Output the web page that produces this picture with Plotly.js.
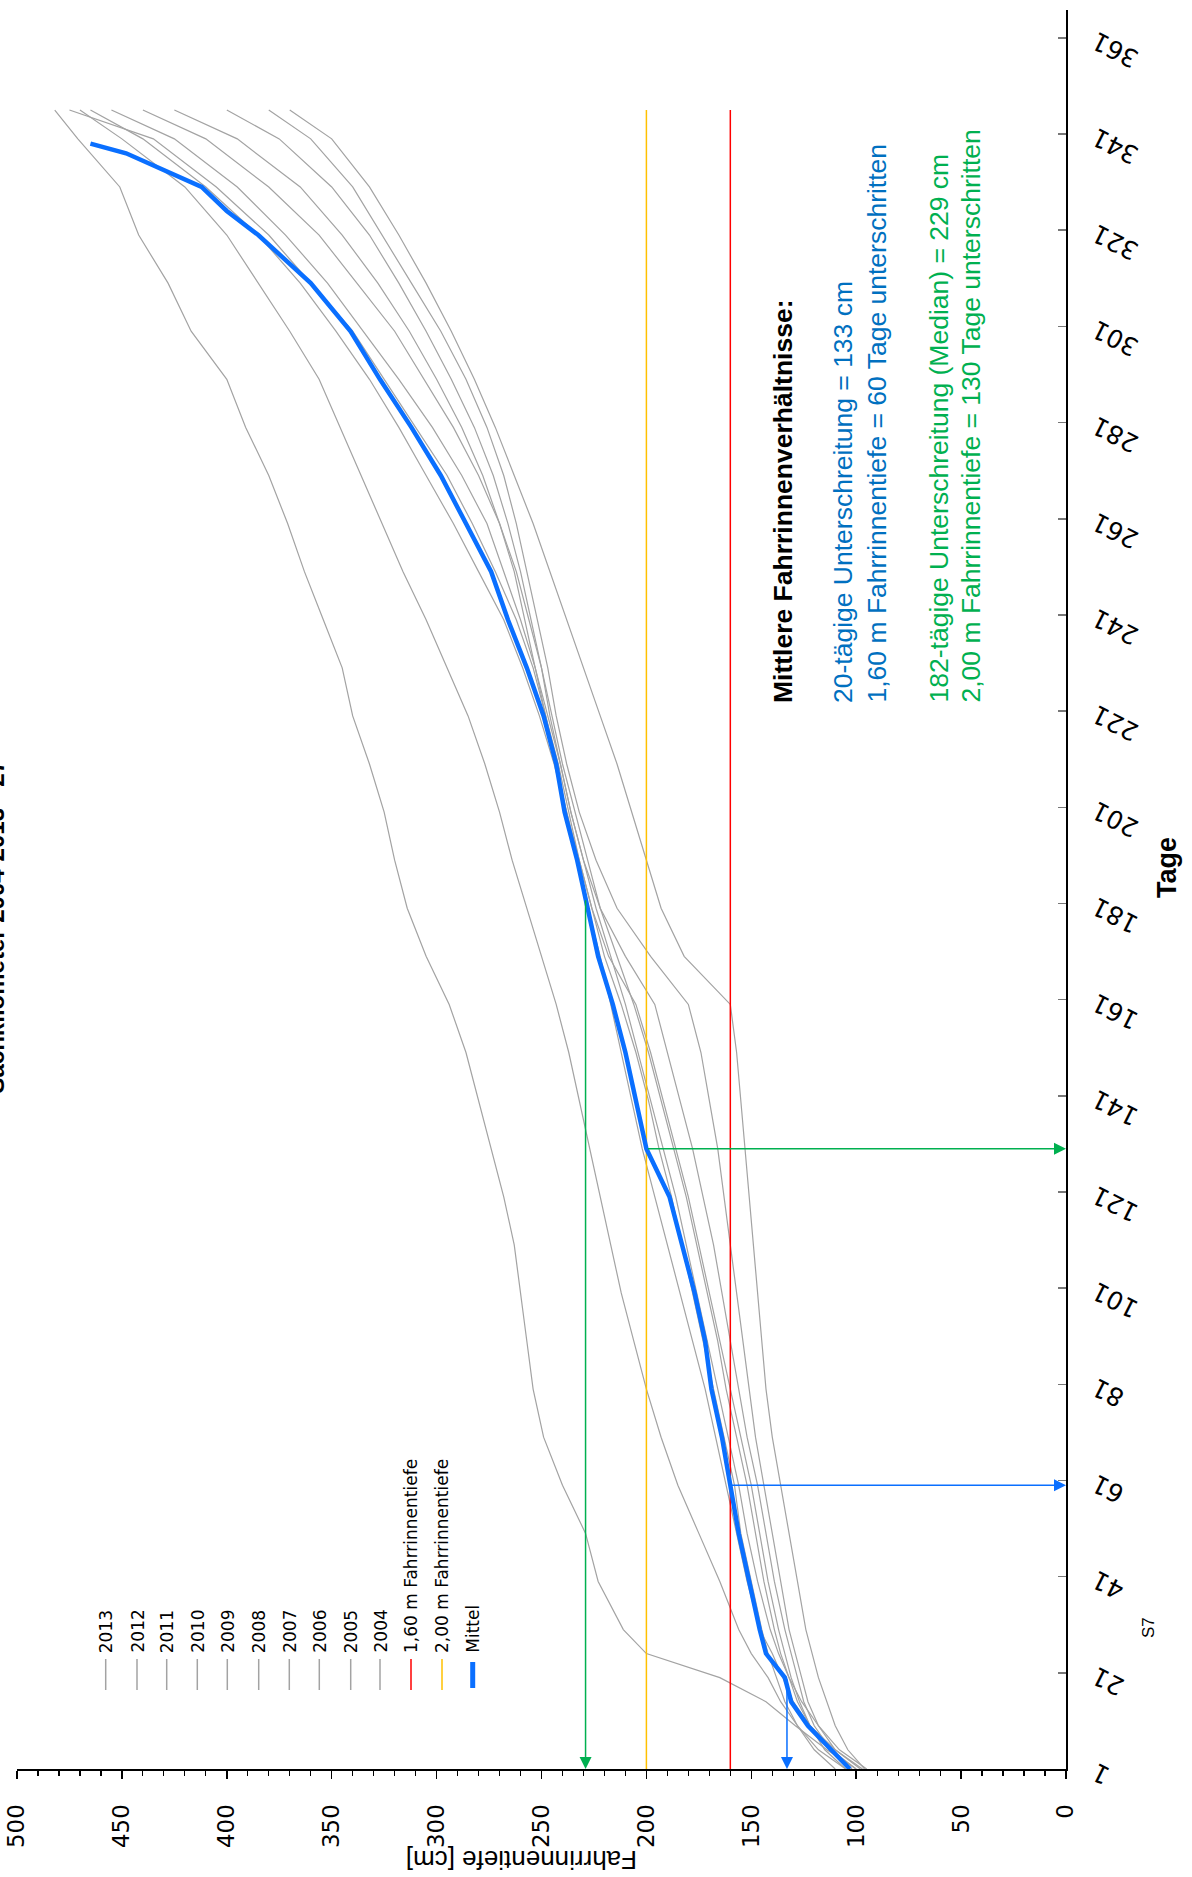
<!DOCTYPE html>
<html>
<head>
<meta charset="utf-8">
<script src="https://cdn.plot.ly/plotly-3.0.1.min.js"></script>
<style>html,body{margin:0;padding:0;background:#fff;}#chart{width:1192px;height:1877px;}</style>
</head>
<body>
<div id="chart"></div>
<script>
// ---- data (days of year, sorted depth duration curves in cm) ----
const days = [1,5,10,15,20,25,30,40,50,60,70,80,90,100,110,120,130,140,150,160,170,180,190,200,210,220,230,240,250,260,270,280,290,300,310,320,330,340,346];
const years = ['2013','2012','2011','2010','2009','2008','2007','2006','2005','2004'];
const d2013 = [100,114,129,143,165,200,211,223,229,240,249,254,257,260,263,268,274,280,286,294,305,314,320,325,332,340,345,354,363,371,380,391,400,417,428,442,451,471,482];
const d2012 = [105,118,128,136,142,150,156,165,175,185,193,200,206,212,217,222,227,232,237,243,250,257,264,270,277,285,295,305,316,326,336,346,356,370,385,400,420,450,470];
const d2011 = [98,110,122,130,135,140,146,152,157,162,167,172,178,184,190,196,202,207,212,217,222,228,233,238,244,251,259,268,280,292,305,318,332,348,365,385,410,440,465];
const d2010 = [110,120,128,134,138,142,145,150,155,158,163,168,173,178,183,188,194,199,205,212,220,226,232,237,242,248,254,262,272,283,295,310,325,340,360,380,405,435,475];
const d2009 = [95,108,118,126,132,137,141,147,152,156,161,166,171,176,181,186,192,198,204,210,217,224,230,236,241,247,253,260,268,276,288,302,318,335,352,372,395,425,455];
const d2008 = [100,112,122,128,132,136,139,144,148,152,157,162,166,171,176,181,187,193,199,206,214,222,228,234,240,245,250,256,262,270,280,292,306,320,338,356,380,410,440];
const d2007 = [105,115,122,127,131,134,137,142,146,150,155,160,165,170,175,180,186,192,198,205,218,226,232,238,243,248,253,258,263,270,278,288,300,313,328,345,365,395,425];
const d2006 = [102,112,120,125,128,131,134,139,143,147,152,156,160,164,168,173,178,184,190,196,210,222,230,236,241,246,250,255,260,266,273,282,293,305,318,332,350,375,400];
const d2005 = [97,110,118,123,126,129,132,136,140,144,148,151,154,157,160,163,166,170,174,180,198,214,224,232,238,243,247,252,257,262,268,276,286,298,312,326,340,360,380];
const d2004 = [96,104,110,114,118,121,124,128,132,136,140,143,145,147,149,151,153,155,157,160,182,193,200,207,214,222,230,238,246,254,263,272,282,293,305,318,332,350,370];
const meanDays = [1,5,10,15,20,25,30,40,50,60,70,80,90,100,110,120,130,140,150,160,170,180,190,200,210,220,230,240,250,260,270,280,290,300,310,320,325,330,334,337,339];
const meanDepth = [103,112,123,131,134,143,146,151,156,160,164,169,172,177,183,189,200,205,210,216,223,228,233,239,243,249,257,266,274,286,298,312,327,341,360,385,400,412,432,448,465];
const limitDays = [1,346];
const limit160 = [160,160];
const limit200 = [200,200];
const tickDays = [1,21,41,61,81,101,121,141,161,181,201,221,241,261,281,301,321,341,361];
const depthTicks = [0,50,100,150,200,250,300,350,400,450,500];
const legendLabels = ['2013','2012','2011','2010','2009','2008','2007','2006','2005','2004','1,60 m Fahrrinnentiefe','2,00 m Fahrrinnentiefe','Mittel'];
const stat20 = {days:20, depth:133};
const stat160 = {days:60, depth:160};
const stat182 = {days:182, depth:229};
const stat200 = {days:130, depth:200};
const infoTitle = 'Mittlere Fahrrinnenverhältnisse:';
const infoBlue = ['20-tägige Unterschreitung = 133 cm','1,60 m Fahrrinnentiefe = 60 Tage unterschritten'];
const infoGreen = ['182-tägige Unterschreitung (Median) = 229 cm','2,00 m Fahrrinnentiefe = 130 Tage unterschritten'];

// ---- layout geometry (pixels) ----
const W = 1192, H = 1877;
const L = 17, R = 1066, T = 10, B = 1769;
const px = v => (v - L) / (R - L);
const py = v => (B - v) / (B - T);

const grey = '#a3a3a3';
const blue = '#0a6fff';
const blueText = '#0070c0';
const green = '#00b050';
const red = '#ff0000';
const yellow = '#ffc000';

const yearData = [d2013,d2012,d2011,d2010,d2009,d2008,d2007,d2006,d2005,d2004];
const traces = [];
yearData.forEach((arr, i) => {
  traces.push({x: arr, y: days, name: years[i], type: 'scatter', mode: 'lines',
    line: {color: grey, width: 1.2}, hoverinfo: 'skip'});
});
traces.push({x: limit160, y: limitDays, name: legendLabels[10], mode: 'lines', line: {color: red, width: 1.5}});
traces.push({x: limit200, y: limitDays, name: legendLabels[11], mode: 'lines', line: {color: yellow, width: 1.5}});
traces.push({x: meanDepth, y: meanDays, name: 'Mittel', mode: 'lines', line: {color: blue, width: 4.5}});

const annotations = [];
const shapes = [];
const FS = 'Liberation Sans, Arial, sans-serif';
const DJ = 'DejaVu Sans, Verdana, sans-serif';

// arrows
function arrow(color, hx, hy, tx, ty) {
  annotations.push({x: hx, y: hy, ax: tx, ay: ty, xref: 'x', yref: 'y', axref: 'x', ayref: 'y',
    text: '', showarrow: true, arrowhead: 2, arrowsize: 1.6, arrowwidth: 1.5, arrowcolor: color, standoff: 0});
}
arrow(blue, stat20.depth, 1, stat20.depth, stat20.days);
arrow(blue, 0, stat160.days, stat160.depth, stat160.days);
arrow(green, stat182.depth, 1, stat182.depth, stat182.days);
arrow(green, 0, stat200.days, stat200.depth, stat200.days);

// info text
function vtext(text, cx, bottom, color, bold, size) {
  annotations.push({xref: 'paper', yref: 'paper', x: px(cx), y: py(bottom), xanchor: 'center', yanchor: 'bottom',
    text: bold ? '<b>' + text + '</b>' : text, showarrow: false, textangle: -90,
    font: {family: FS, size: size, color: color}});
}
vtext(infoTitle, 783, 705, '#000', true, 26.5);
vtext(infoBlue[0], 843, 705, blueText, false, 26.5);
vtext(infoBlue[1], 876, 705, blueText, false, 26.5);
vtext(infoGreen[0], 938, 705, green, false, 26.5);
vtext(infoGreen[1], 970, 705, green, false, 26.5);

// legend (vertical)
const legX = [105.7,137,166.7,197.3,227.3,258.7,289.3,319.3,350.7,380,411,442,472.7];
const legColors = [grey,grey,grey,grey,grey,grey,grey,grey,grey,grey,red,yellow,blue];
legendLabels.forEach((lab, i) => {
  const isMean = i === legendLabels.length - 1;
  shapes.push({type: 'line', xref: 'paper', yref: 'paper', x0: px(legX[i]), x1: px(legX[i]),
    y0: py(isMean ? 1662 : 1659), y1: py(isMean ? 1688 : 1690),
    line: {color: legColors[i], width: isMean ? 5 : 1.5}});
  annotations.push({xref: 'paper', yref: 'paper', x: px(legX[i]), y: py(1655), xanchor: 'center', yanchor: 'bottom',
    text: lab, showarrow: false, textangle: -90, font: {family: DJ, size: 17, color: '#000'}});
});

// axis titles & misc
annotations.push({xref: 'paper', yref: 'paper', x: px(522), y: py(1860), xanchor: 'center', yanchor: 'middle',
  text: 'Fahrrinnentiefe [cm]', showarrow: false, textangle: 180, font: {family: FS, size: 26, color: '#000'}});
annotations.push({xref: 'paper', yref: 'paper', x: px(1167), y: py(868), xanchor: 'center', yanchor: 'middle',
  text: '<b>Tage</b>', showarrow: false, textangle: -90, font: {family: FS, size: 27, color: '#000'}});
annotations.push({xref: 'paper', yref: 'paper', x: px(1148), y: py(1628), xanchor: 'center', yanchor: 'middle',
  text: 'S7', showarrow: false, textangle: -90, font: {family: FS, size: 17, color: '#000'}});
annotations.push({xref: 'paper', yref: 'paper', x: px(11), y: py(927), xanchor: 'right', yanchor: 'middle',
  text: '<b>Sachkilometer 2004-2013 - 27</b>', showarrow: false, textangle: -90, font: {family: FS, size: 24, color: '#000'}});

// day tick labels padded with figure spaces so the visible digits line up at the text end
const dayText = tickDays.map(d => '\u2007'.repeat(3 - String(d).length) + String(d));

const layout = {
  width: W, height: H,
  margin: {l: L, r: W - R, t: T, b: H - B, pad: 0},
  paper_bgcolor: '#fff', plot_bgcolor: '#fff',
  showlegend: false,
  xaxis: {range: [500, 0], autorange: false, tickvals: depthTicks, ticktext: depthTicks.map(String),
    tickangle: -90, tickfont: {family: DJ, size: 23, color: '#000'},
    ticks: 'outside', ticklen: 8, tickwidth: 1.5, tickcolor: '#000',
    minor: {dtick: 10, tick0: 0, ticks: 'outside', ticklen: 5, tickwidth: 1.2, tickcolor: '#000', showgrid: false},
    showline: true, linecolor: '#000', linewidth: 2, showgrid: false, zeroline: false, ticklabelstandoff: 16},
  yaxis: {range: [1, 366.8], autorange: false, side: 'right', tickvals: tickDays, ticktext: dayText,
    tickangle: -153, tickfont: {family: DJ, size: 25, color: '#000'},
    ticks: 'inside', ticklen: 8, tickwidth: 1.5, tickcolor: '#777', ticklabeloverflow: 'allow',
    showline: true, linecolor: '#000', linewidth: 1.5, showgrid: false, zeroline: false,
    ticklabelstandoff: 62, ticklabelshift: 30},
  annotations: annotations,
  shapes: shapes
};

Plotly.newPlot('chart', traces, layout, {staticPlot: true, displayModeBar: false});
</script>
</body>
</html>
